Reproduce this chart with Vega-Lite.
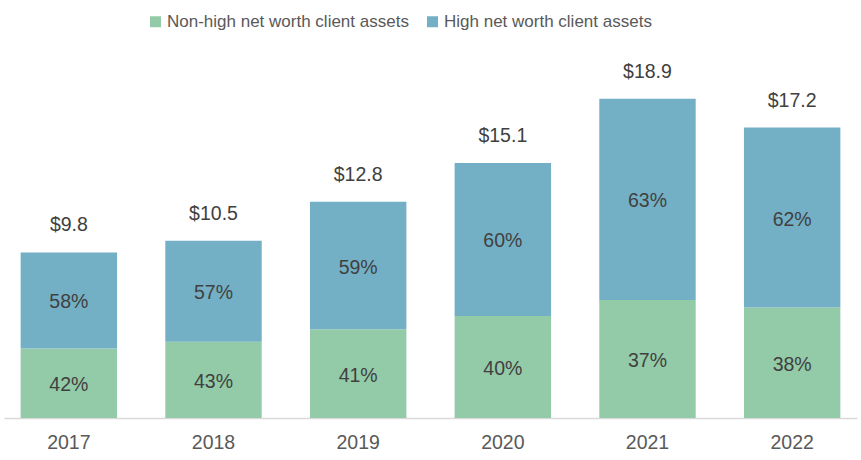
{
  "$schema": "https://vega.github.io/schema/vega-lite/v6.json",
  "width": 853,
  "height": 418,
  "autosize": "none",
  "padding": {"left": 4, "top": 0, "right": 4, "bottom": 42},
  "background": "white",
  "config": {"view": {"stroke": null}, "font": "Liberation Sans"},
  "data": {
    "values": [
      {"year": "2017", "segment": "Non-high net worth client assets", "order": 1, "value": 4.12, "pct": "42%"},
      {"year": "2017", "segment": "High net worth client assets", "order": 2, "value": 5.68, "pct": "58%"},
      {"year": "2018", "segment": "Non-high net worth client assets", "order": 1, "value": 4.52, "pct": "43%"},
      {"year": "2018", "segment": "High net worth client assets", "order": 2, "value": 5.98, "pct": "57%"},
      {"year": "2019", "segment": "Non-high net worth client assets", "order": 1, "value": 5.25, "pct": "41%"},
      {"year": "2019", "segment": "High net worth client assets", "order": 2, "value": 7.55, "pct": "59%"},
      {"year": "2020", "segment": "Non-high net worth client assets", "order": 1, "value": 6.04, "pct": "40%"},
      {"year": "2020", "segment": "High net worth client assets", "order": 2, "value": 9.06, "pct": "60%"},
      {"year": "2021", "segment": "Non-high net worth client assets", "order": 1, "value": 6.99, "pct": "37%"},
      {"year": "2021", "segment": "High net worth client assets", "order": 2, "value": 11.91, "pct": "63%"},
      {"year": "2022", "segment": "Non-high net worth client assets", "order": 1, "value": 6.54, "pct": "38%"},
      {"year": "2022", "segment": "High net worth client assets", "order": 2, "value": 10.66, "pct": "62%"}
    ]
  },
  "encoding": {
    "x": {
      "field": "year",
      "type": "ordinal",
      "scale": {"paddingInner": 0.3335, "paddingOuter": 0.115},
      "axis": {
        "title": null,
        "labelAngle": 0,
        "ticks": false,
        "domainColor": "#D9D9D9",
        "domainWidth": 1.5,
        "labelFontSize": 19.5,
        "labelColor": "#595959",
        "labelPadding": 15
      }
    }
  },
  "layer": [
    {
      "mark": {"type": "bar"},
      "encoding": {
        "y": {"field": "value", "type": "quantitative", "stack": "zero", "scale": {"domain": [0, 24.75], "nice": false, "zero": true}, "axis": null},
        "color": {
          "field": "segment",
          "type": "nominal",
          "scale": {
            "domain": ["Non-high net worth client assets", "High net worth client assets"],
            "range": ["#93CBA8", "#74B0C5"]
          },
          "legend": {
            "title": null,
            "orient": "none",
            "legendX": 143,
            "legendY": 13,
            "direction": "horizontal",
            "symbolType": "square",
            "symbolSize": 121,
            "symbolStrokeWidth": 0,
            "labelFontSize": 17,
            "labelColor": "#595959",
            "labelLimit": 0,
            "labelOffset": 3,
            "columnPadding": 15
          }
        },
        "order": {"field": "order", "type": "quantitative"}
      }
    },
    {
      "transform": [
        {"stack": "value", "groupby": ["year"], "sort": [{"field": "order", "order": "ascending"}], "as": ["y0", "y1"]},
        {"fold": ["y0", "y1"], "as": ["k", "v"]}
      ],
      "mark": {"type": "text", "fontSize": 19.5, "color": "#404040", "baseline": "middle", "dy": 2},
      "encoding": {
        "y": {"aggregate": "mean", "field": "v", "type": "quantitative"},
        "text": {"field": "pct", "type": "nominal"},
        "detail": {"field": "segment", "type": "nominal"}
      }
    },
    {
      "mark": {"type": "text", "fontSize": 19.5, "color": "#404040", "baseline": "middle", "dy": -27},
      "encoding": {
        "y": {"aggregate": "sum", "field": "value", "type": "quantitative"},
        "text": {"aggregate": "sum", "field": "value", "type": "quantitative", "format": "$.1f"}
      }
    }
  ]
}
